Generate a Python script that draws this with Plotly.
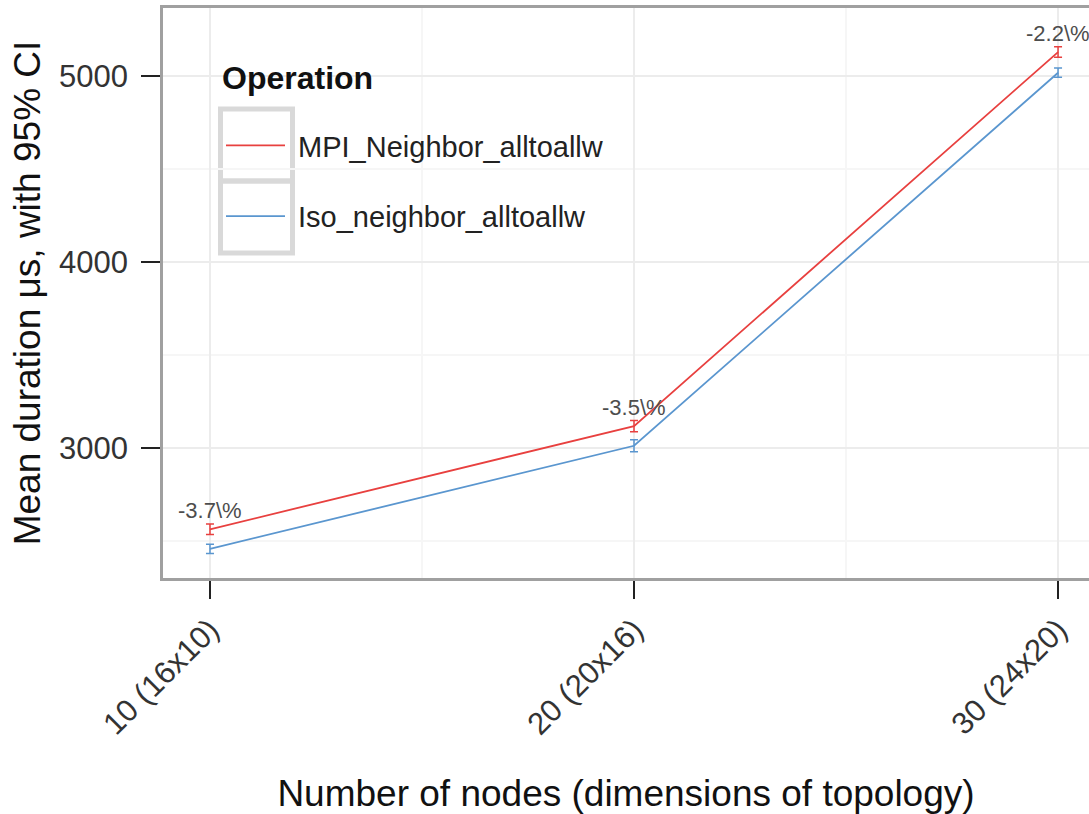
import plotly.graph_objects as go

nodes = [10, 20, 30]
tick_labels = ["10 (16x10)", "20 (20x16)", "30 (24x20)"]
mpi_mean = [2563, 3118, 5129]
mpi_err = [28, 30, 28]
iso_mean = [2458, 3012, 5018]
iso_err = [25, 32, 25]
diff_labels = ["-3.7\\%", "-3.5\\%", "-2.2\\%"]
series_names = ["MPI_Neighbor_alltoallw", "Iso_neighbor_alltoallw"]

RED = "#E8403F"
BLUE = "#5A96CF"
FONT = "Liberation Sans"
NB = "\u00a0"

L, T, W, H = 163, 8, 926, 570


def px(xp):
    return (xp - L) / W


def py(yp):
    return (T + H - yp) / H


fig = go.Figure()
fig.add_trace(go.Scatter(
    x=nodes, y=mpi_mean, mode="lines", name=NB + series_names[0],
    line=dict(color=RED, width=1.8), legendgroup="a",
    error_y=dict(type="data", array=mpi_err, color=RED, thickness=1.5, width=4),
))
fig.add_trace(go.Scatter(
    x=nodes, y=iso_mean, mode="lines", name=NB + series_names[1],
    line=dict(color=BLUE, width=1.8), legendgroup="b",
    error_y=dict(type="data", array=iso_err, color=BLUE, thickness=1.5, width=4),
))

for xv, yv, t in zip(nodes, mpi_mean, diff_labels):
    fig.add_annotation(x=xv, y=yv, text=t, showarrow=False, yshift=19,
                       font=dict(family=FONT, size=22, color="#4d4d4d"))

# legend title
fig.add_annotation(xref="paper", yref="paper", x=px(220), y=py(78),
                   xanchor="left", yanchor="middle", showarrow=False,
                   text="<b>Operation</b>", font=dict(family=FONT, size=32, color="#111"))

# legend key boxes (ggplot-style)
for y0, y1 in [(109, 181), (181, 253)]:
    fig.add_shape(type="rect", xref="paper", yref="paper",
                  x0=px(220.5), x1=px(292.5), y0=py(y1), y1=py(y0),
                  line=dict(color="#d9d9d9", width=5), fillcolor="rgba(0,0,0,0)",
                  layer="below")

fig.update_layout(
    width=1089, height=814,
    margin=dict(l=L, r=0, t=T, b=814 - T - H),
    paper_bgcolor="white", plot_bgcolor="white",
    font=dict(family=FONT, color="#222"),
    showlegend=True,
    legend=dict(
        x=px(221), y=py(120), xanchor="left", yanchor="top",
        bgcolor="rgba(0,0,0,0)",
        font=dict(size=29, color="#222"),
        traceorder="grouped", tracegroupgap=30, itemwidth=59,
    ),
    xaxis=dict(
        range=[8.892, 30.73], tickmode="array", tickvals=nodes, ticktext=tick_labels,
        tickangle=-45, tickfont=dict(size=31, color="#333"),
        showgrid=True, gridcolor="#ececec", gridwidth=2,
        minor=dict(tickvals=[15, 25], showgrid=True, gridcolor="#f6f6f6", gridwidth=1.5, ticklen=0),
        showline=True, linecolor="#a0a0a0", linewidth=3, mirror=True,
        ticks="outside", ticklen=18, tickwidth=2, tickcolor="#222",
        title=dict(text="Number of nodes (dimensions of topology)", font=dict(size=37, color="#111"), standoff=40),
        zeroline=False,
    ),
    yaxis=dict(
        range=[2301, 5366], tickmode="array", tickvals=[3000, 4000, 5000],
        tickfont=dict(size=31, color="#333"), ticklabelstandoff=7,
        showgrid=True, gridcolor="#ececec", gridwidth=2,
        minor=dict(tickvals=[2500, 3500, 4500], showgrid=True, gridcolor="#f6f6f6", gridwidth=1.5, ticklen=0),
        showline=True, linecolor="#a0a0a0", linewidth=2.5,
        ticks="outside", ticklen=19, tickwidth=2, tickcolor="#222",
        title=dict(text="Mean duration μs, with 95% CI", font=dict(size=37, color="#111"), standoff=8),
        zeroline=False,
    ),
)

fig.write_html("out.html")
